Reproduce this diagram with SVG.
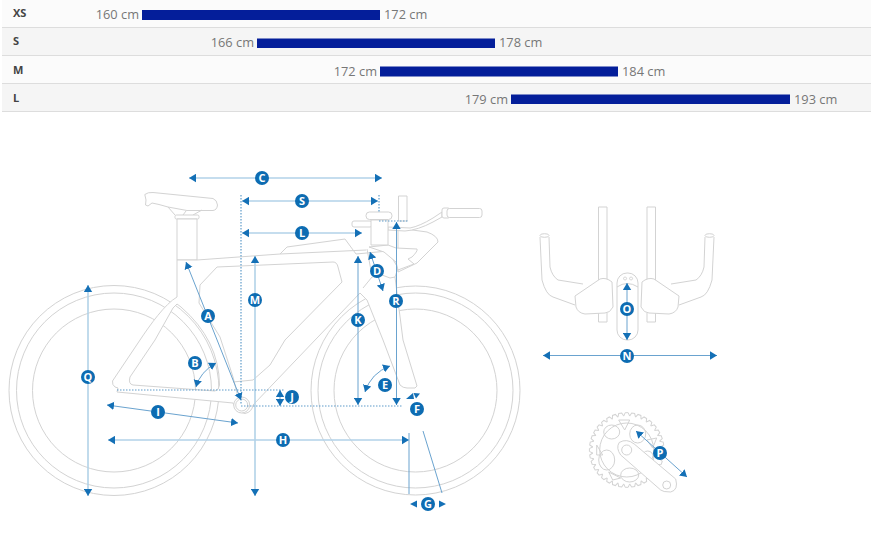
<svg xmlns="http://www.w3.org/2000/svg" xmlns:xlink="http://www.w3.org/1999/xlink" width="871" height="535" viewBox="0 0 871 535">
<style>
text{font-family:"Open Sans","Liberation Sans",sans-serif}
.size{font-size:11px;font-weight:700;fill:#444}
.cm{font-size:12.800px;fill:#777}
.end{text-anchor:end}
.bar{fill:#041e9a}
.sep{stroke:#ddd;stroke-width:1}
.d{fill:none;stroke:#d3d3d3;stroke-width:1;stroke-linejoin:round}
.w{fill:#fff;stroke:#d3d3d3;stroke-width:1;stroke-linejoin:round}
.lt{fill:none;stroke:#b2d2e8;stroke-width:1.600}
.dk{fill:none;stroke:#6aa3cf;stroke-width:1}
.dot{fill:none;stroke:#5f9cca;stroke-width:1.200;stroke-dasharray:1.500 1.500}
.ah{marker-start:url(#a);marker-end:url(#a)}
.b circle{fill:#0d6cb2}
.b text{font-size:11px;font-weight:700;fill:#fff;text-anchor:middle}
</style>
<defs>
<marker id="a" markerUnits="userSpaceOnUse" markerWidth="9" markerHeight="9" refX="7" refY="4.500" orient="auto-start-reverse"><path d="M0 0.300L7 4.500L0 8.700Z" fill="#1470b6"/></marker>
<path id="t" d="M-2.970-33.900L-1.500-37.300L1.500-37.300L2.970-33.900" fill="none" stroke="#d3d3d3"/>
<g id="t6"><use href="#t"/><use href="#t" transform="rotate(10)"/><use href="#t" transform="rotate(20)"/><use href="#t" transform="rotate(30)"/><use href="#t" transform="rotate(40)"/><use href="#t" transform="rotate(50)"/></g>
</defs>
<rect width="871" height="535" fill="#fff"/>
<g id="size-table">
<rect x="2" y="0" width="869" height="27" fill="#fbfbfb"/>
<rect x="2" y="28" width="869" height="27" fill="#f5f5f5"/>
<rect x="2" y="56" width="869" height="27" fill="#fbfbfb"/>
<rect x="2" y="84" width="869" height="27" fill="#f5f5f5"/>
<path class="sep" d="M2 27.500H871M2 55.500H871M2 83.500H871M2 111.500H871"/>
<text class="size" x="13" y="17">XS</text><rect class="bar" x="142" y="10" width="238" height="10"/><text class="cm end" x="139" y="19">160 cm</text><text class="cm" x="384" y="19">172 cm</text>
<text class="size" x="13" y="45">S</text><rect class="bar" x="257" y="38.500" width="238" height="9.500"/><text class="cm end" x="254" y="47">166 cm</text><text class="cm" x="499" y="47">178 cm</text>
<text class="size" x="13" y="74">M</text><rect class="bar" x="380" y="66.500" width="238" height="10"/><text class="cm end" x="377" y="76">172 cm</text><text class="cm" x="622" y="76">184 cm</text>
<text class="size" x="13" y="102">L</text><rect class="bar" x="511" y="94.500" width="279" height="9.500"/><text class="cm end" x="508" y="104">179 cm</text><text class="cm" x="794" y="104">193 cm</text>
</g>
<g id="bike">
<g class="d"><circle cx="114" cy="390.500" r="105"/><circle cx="114" cy="390.500" r="97.500"/><circle cx="114" cy="390.500" r="81.500"/>
<circle cx="415.500" cy="390.500" r="104.500"/><circle cx="415.500" cy="390.500" r="97.500"/><circle cx="415.500" cy="390.500" r="81.500"/></g>
<path class="w" d="M144.800 194.500Q148 192 153 192.500L213 198.500Q217 200 217.500 205Q217 210 213 210.500L187 210.500L168 207Q158 204 152 203L148 206L145.500 205L146 200Z"/>
<path class="d" d="M168 207L175 215M186 211L183 215M202 210L193 215"/>
<rect class="w" x="175" y="215" width="24" height="4" rx="1.500"/>
<rect class="w" x="177" y="219" width="20" height="41"/>
<path class="w" fill-rule="evenodd" d="M177 260V297C165 304 150 325 140 340L112.500 381Q112 385 115 387L118 388L117 392L233 403Q236 412 245 413.500Q252 412 253 405L360 293L367 300L383 340L400 385Q403 388 407 388L415 388L417 386L403 340L397 293L395 277L398 268L388 251L356 254L345 239L287 247L280 254L197 260Z M173 308L155 340L130 377Q128 384 133 385L215 391Q219 390 219.500 385Q219 340 181 307L177 304Z"/>
<path class="d" d="M217 267L200 285L199 303L220 337L233 377L238 397"/>
<path class="d" d="M217 267L333 262Q337 262 338 267L342 282L285 340L270 365L253 380L233 382"/>
<path class="d" d="M280 254L366 250"/>
<path class="d" d="M363 288L372 277L382 275L390 278L395 277"/>
<path class="d" d="M367 249L372 276"/>
<circle class="w" cx="241.700" cy="405" r="8"/><circle class="d" cx="241.700" cy="405" r="6"/>
<rect class="w" x="352" y="221" width="20" height="6" rx="2"/>
<path class="w" d="M398 272L417 263L438 242Q438 236 427 232L398 228Z"/>
<path class="w" d="M388 227L410 228Q420 226 433 218L442 212V217L433 222Q418 230 405 231L388 230Z"/>
<rect class="w" x="398.500" y="196" width="8.500" height="25"/>
<rect class="w" x="442" y="208" width="8" height="10" rx="2"/><rect class="w" x="447" y="208.500" width="35" height="9" rx="2.500"/>
<path class="w" d="M369 247L388 245L396 248L417 249Q418 251 412 257L408 259L414 264L398 270L396 262L384 252Z"/>
<rect class="w" x="371" y="220" width="17" height="25"/>
<rect class="w" x="366" y="212" width="26" height="7.500" rx="3.500"/>
</g>
<g id="aerobar">
<path class="d" d="M540 237L542 280Q546 295 553 297L575 305M549 237L550 267Q552 276 558 280L583 284M714 237L712 280Q708 295 701 297L679 305M705 237L704 267Q702 276 696 280L671 284"/>
<ellipse class="w" cx="544.500" cy="235.500" rx="4.500" ry="1.800"/><ellipse class="w" cx="709.500" cy="235.500" rx="4.500" ry="1.800"/>
<rect class="w" x="598.500" y="207" width="8.500" height="115"/><rect class="w" x="647" y="207" width="8.500" height="115"/>
<rect class="w" x="617" y="273" width="21" height="67" rx="10"/>
<path class="d" d="M617 287Q627 280 638 287M625 277a1.500 1.500 0 1 0 .1 0M631 277a1.500 1.500 0 1 0 .1 0"/>
<path class="w" d="M575 296L600 279Q606 277 612 282L613 307Q610 313 605 313L585 314Q578 313 576 307Z"/>
<path class="w" d="M679 296L654 279Q648 277 642 282L641 307Q644 313 649 313L669 314Q676 313 678 307Z"/>
</g>
<g id="chainring" transform="translate(626.700 450)">
<use href="#t6"/><use href="#t6" transform="rotate(60)"/><use href="#t6" transform="rotate(120)"/><use href="#t6" transform="rotate(180)"/><use href="#t6" transform="rotate(240)"/><use href="#t6" transform="rotate(300)"/>
<circle class="d" r="27"/>
<ellipse class="d" cx="11" cy="-16" rx="8" ry="9"/><ellipse class="d" cx="-15" cy="-18" rx="8" ry="7"/><ellipse class="d" cx="-20" cy="10" rx="8" ry="10"/><ellipse class="d" cx="3" cy="25" rx="9" ry="7"/><ellipse class="d" cx="21" cy="8" rx="6" ry="7"/>
<path class="d" d="M-8-30L3-30L-2-20ZM-30-5L-24 5L-30 5ZM-18 22L-6 28L-14 30ZM30-12L26-2L20-10Z"/>
<path class="w" d="M-7.500-7.500Q0-12 7.500-6L49 29Q52 40 44 42Q36 42 34 40L-6 5Q-11-2-7.500-7.500Z"/>
<circle class="d" r="5"/><circle class="d" cx="40" cy="35" r="4"/>
</g>
<g id="connectors">
<path class="lt ah" d="M189 178H382"/>
<path class="lt ah" d="M242 201H378"/>
<path class="lt ah" d="M242 233H362"/>
<path class="lt ah" d="M255 256V496"/>
<path class="lt ah" d="M88 285V496"/>
<path class="lt ah" d="M108 440H409"/>
<path class="dot" d="M241 195V404M379 195V212M379 221H409M117 390H285M241 406H403"/>
<path class="dk ah" d="M186 262L241 400"/>
<path class="dk ah" d="M196 387Q200 372 216 363"/>
<path class="dk ah" d="M107 405L238 423"/>
<path class="dk ah" d="M280 390V406"/>
<path class="dk ah" d="M358 256V405"/>
<path class="dk ah" d="M396.500 222V405"/>
<path class="dk ah" d="M370 252L383 291"/>
<path class="dk ah" d="M365 392Q371 373 390 366"/>
<path class="dk" d="M409 433V494M423 431L442 493"/>
<path class="dk ah" d="M543 355.500H717"/>
<path class="dk ah" d="M627 283V340"/>
<path class="dk ah" d="M636 431L687 477"/>
<path d="M406 399L413 393L414 399ZM413.500 393L420 393.500L416 398.500Z" fill="#1470b6"/>
<path d="M410 504L417 500.500V507.500ZM446 504L439 500.500V507.500Z" fill="#1470b6"/>
</g>
<g id="label-A" class="b"><circle cx="208" cy="316" r="7"/><text x="208" y="320">A</text></g>
<g id="label-B" class="b"><circle cx="195" cy="363" r="7"/><text x="195" y="367">B</text></g>
<g id="label-C" class="b"><circle cx="262" cy="178" r="7"/><text x="262" y="182">C</text></g>
<g id="label-D" class="b"><circle cx="377" cy="271" r="7"/><text x="377" y="275">D</text></g>
<g id="label-E" class="b"><circle cx="385" cy="385" r="7"/><text x="385" y="389">E</text></g>
<g id="label-F" class="b"><circle cx="417" cy="409" r="7"/><text x="417" y="413">F</text></g>
<g id="label-G" class="b"><circle cx="428" cy="504" r="7"/><text x="428" y="508">G</text></g>
<g id="label-H" class="b"><circle cx="283" cy="440" r="7"/><text x="283" y="444">H</text></g>
<g id="label-I" class="b"><circle cx="158" cy="412" r="7"/><text x="158" y="416">I</text></g>
<g id="label-J" class="b"><circle cx="292" cy="397" r="7"/><text x="292" y="401">J</text></g>
<g id="label-K" class="b"><circle cx="358" cy="320" r="7"/><text x="358" y="324">K</text></g>
<g id="label-L" class="b"><circle cx="302" cy="233" r="7"/><text x="302" y="237">L</text></g>
<g id="label-M" class="b"><circle cx="255" cy="300" r="7"/><text x="255" y="304">M</text></g>
<g id="label-N" class="b"><circle cx="627" cy="356" r="7"/><text x="627" y="360">N</text></g>
<g id="label-O" class="b"><circle cx="627" cy="309" r="7"/><text x="627" y="313">O</text></g>
<g id="label-P" class="b"><circle cx="660" cy="453" r="7"/><text x="660" y="457">P</text></g>
<g id="label-Q" class="b"><circle cx="88" cy="377" r="7"/><text x="88" y="381">Q</text></g>
<g id="label-R" class="b"><circle cx="396" cy="301" r="7"/><text x="396" y="305">R</text></g>
<g id="label-S" class="b"><circle cx="302" cy="201" r="7"/><text x="302" y="205">S</text></g>
</svg>
